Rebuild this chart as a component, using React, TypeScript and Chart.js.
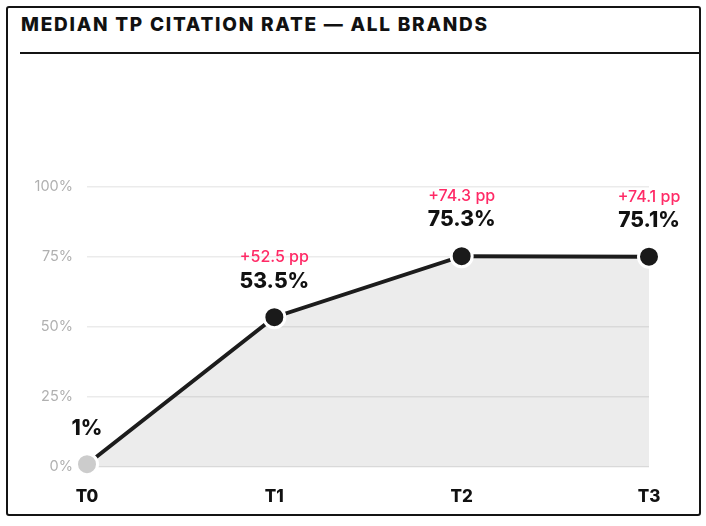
import React, { useEffect, useRef } from "react";
import { Chart, registerables } from "chart.js";

Chart.register(...registerables);

const categories = ["T0", "T1", "T2", "T3"];
const values = [1, 53.5, 75.3, 75.1];
const valueLabels = ["1%", "53.5%", "75.3%", "75.1%"];
const deltaLabels = ["", "+52.5 pp", "+74.3 pp", "+74.1 pp"];
const pointColors = ["#cccccc", "#1a1a1a", "#1a1a1a", "#1a1a1a"];
const yTickValues = [0, 25, 50, 75, 100];

const FONT = "Inter, 'Noto Sans', sans-serif";

const labelPlugin = {
  id: "pointLabels",
  afterDatasetsDraw(chart: any) {
    const ctx = chart.ctx;
    const meta = chart.getDatasetMeta(0);
    ctx.save();
    ctx.textAlign = "center";
    ctx.textBaseline = "middle";
    meta.data.forEach((pt: any, i: number) => {
      ctx.fillStyle = "#111111";
      ctx.font = `800 21px ${FONT}`;
      ctx.fillText(valueLabels[i], pt.x, pt.y - 36);
      if (deltaLabels[i]) {
        ctx.fillStyle = "#ff2a66";
        ctx.font = `500 16px ${FONT}`;
        ctx.fillText(deltaLabels[i], pt.x, pt.y - 60);
      }
    });
    ctx.restore();
  },
};

export default function App() {
  const ref = useRef<HTMLCanvasElement | null>(null);

  useEffect(() => {
    if (!ref.current) return;
    const chart = new Chart(ref.current, {
      type: "line",
      data: {
        labels: categories,
        datasets: [
          {
            data: values,
            borderColor: "#1c1c1c",
            borderWidth: 4,
            fill: "origin",
            backgroundColor: "rgba(0,0,0,0.075)",
            pointBackgroundColor: pointColors,
            pointBorderColor: "#ffffff",
            pointBorderWidth: 3,
            pointRadius: 10.5,
            pointHoverRadius: 10.5,
            tension: 0,
            clip: false,
          },
        ],
      },
      options: {
        animation: false,
        responsive: false,
        maintainAspectRatio: false,
        layout: { padding: { top: 131, right: 50, left: 0, bottom: 0 } },
        plugins: {
          legend: { display: false },
          tooltip: { enabled: false },
          title: { display: false },
        },
        scales: {
          x: {
            type: "category",
            offset: false,
            grid: { display: false, drawTicks: false },
            border: { display: false },
            ticks: {
              padding: 20,
              color: "#111111",
              font: { family: FONT, size: 17, weight: 800 },
            },
            afterFit: (s: any) => {
              s.height = 47;
            },
          },
          y: {
            min: 0,
            max: 100,
            afterBuildTicks: (s: any) => {
              s.ticks = yTickValues.map((v) => ({ value: v }));
            },
            grid: { color: "#ebebeb", lineWidth: 1.5, drawTicks: false },
            border: { display: false },
            ticks: {
              padding: 14,
              color: "#b0b0b0",
              font: { family: FONT, size: 14.5 },
              callback: (v: any) => `${v}%`,
            },
            afterFit: (s: any) => {
              s.width = 79;
            },
          },
        },
      },
      plugins: [labelPlugin],
    });
    return () => chart.destroy();
  }, []);

  return (
    <div
      style={{
        position: "absolute",
        left: 6,
        top: 6,
        width: 695,
        height: 510,
        boxSizing: "border-box",
        border: "2px solid #141414",
        borderRadius: 3,
        background: "#ffffff",
        fontFamily: FONT,
      }}
    >
      <div
        style={{
          position: "absolute",
          left: 13,
          top: 6,
          fontSize: 19,
          lineHeight: "22px",
          fontWeight: 800,
          letterSpacing: 1.75,
          color: "#111111",
          whiteSpace: "nowrap",
        }}
      >
        MEDIAN TP CITATION RATE — ALL BRANDS
      </div>
      <div
        style={{
          position: "absolute",
          left: 12,
          right: 0,
          top: 44,
          height: 2,
          background: "#141414",
        }}
      />
      <canvas
        ref={ref}
        width={691}
        height={458}
        style={{ position: "absolute", left: 0, top: 48, width: 691, height: 458 }}
      />
    </div>
  );
}
